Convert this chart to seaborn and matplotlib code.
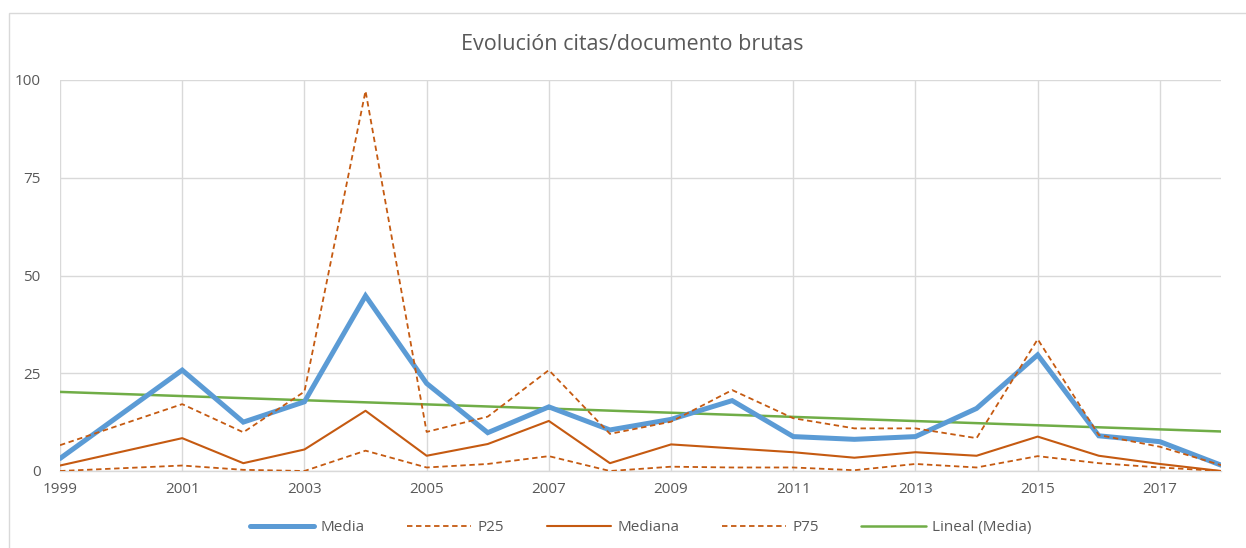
import numpy as np
import pandas as pd
import matplotlib
matplotlib.use("Agg")
import matplotlib.pyplot as plt
from matplotlib.patches import Rectangle
import seaborn as sns

# no data for 2000: the lines run straight from 1999 to 2001
years   = [1999, 2001, 2002, 2003, 2004, 2005, 2006, 2007, 2008, 2009,
           2010, 2011, 2012, 2013, 2014, 2015, 2016, 2017, 2018]
media   = [3.2, 25.8, 12.5, 17.7, 44.8, 22.4, 9.8, 16.4, 10.5, 13.2, 18.0, 8.8, 8.1, 8.8, 16.0, 29.7, 9.0, 7.5, 1.5]
p25     = [0.0, 1.4, 0.3, 0.0, 5.2, 0.9, 1.8, 3.8, 0.0, 1.1, 0.9, 0.9, 0.2, 1.8, 0.9, 3.8, 2.0, 0.9, 0.0]
mediana = [1.4, 8.4, 2.0, 5.5, 15.4, 3.9, 6.9, 12.8, 2.0, 6.8, 5.8, 4.8, 3.4, 4.8, 3.9, 8.8, 3.9, 1.8, 0.0]
p75     = [6.6, 17.1, 9.9, 20.3, 97.2, 10.0, 13.9, 25.8, 9.5, 12.6, 20.7, 13.5, 10.9, 10.9, 8.4, 33.7, 9.2, 6.2, 1.5]

title = "Evolución citas/documento brutas"
xticks = [1999, 2001, 2003, 2005, 2007, 2009, 2011, 2013, 2015, 2017]
yticks = [0, 25, 50, 75, 100]

# linear trend of Media (Excel "Lineal (Media)")
coef = np.polyfit(years, media, 1)
trend = list(np.polyval(coef, years))

df = pd.DataFrame({"year": years, "Media": media, "P25": p25,
                   "Mediana": mediana, "P75": p75, "Lineal (Media)": trend})

sns.set_style("white")
plt.rcParams["font.family"] = ["Open Sans", "DejaVu Sans"]

fig = plt.figure(figsize=(12.46, 5.48), dpi=100)
ax = fig.add_axes([60/1246, 1-471/548, (1221-60)/1246, (471-80)/548])

blue = "#5B9BD5"
orange = "#C55A11"
green = "#70AD47"

sns.lineplot(data=df, x="year", y="Media", ax=ax, color=blue, linewidth=3.6,
             label="Media", solid_joinstyle="miter", zorder=3)
sns.lineplot(data=df, x="year", y="P25", ax=ax, color=orange, linewidth=1.3,
             label="P25", dashes=(3, 2), zorder=4)
sns.lineplot(data=df, x="year", y="Mediana", ax=ax, color=orange, linewidth=1.5,
             label="Mediana", zorder=4)
sns.lineplot(data=df, x="year", y="P75", ax=ax, color=orange, linewidth=1.3,
             label="P75", dashes=(3, 2), zorder=4)
sns.lineplot(data=df, x="year", y="Lineal (Media)", ax=ax, color=green,
             linewidth=1.8, label="Lineal (Media)", zorder=2)

ax.set_xlim(1999, 2018)
ax.set_ylim(0, 100)
ax.set_xticks(xticks)
ax.set_xticklabels([str(t) for t in xticks])
ax.set_yticks(yticks)
ax.set_xlabel("")
ax.set_ylabel("")
ax.grid(True, color="#D9D9D9", linewidth=1.0)
ax.set_axisbelow(True)
for s in ["top", "right", "left"]:
    ax.spines[s].set_visible(False)
ax.spines["bottom"].set_color("#D9D9D9")
ax.spines["bottom"].set_linewidth(1.0)
ax.tick_params(axis="both", length=0, labelsize=11, colors="#595959", pad=8)
ax.tick_params(axis="y", pad=14)

fig.text(632/1246, 1-45/548, title, ha="center", va="center",
         fontsize=15.5, color="#595959")

ax.legend(loc="center", bbox_to_anchor=(0.5, -0.145), ncol=5, frameon=False,
          fontsize=11, labelcolor="#595959", handlelength=4.2,
          columnspacing=2.8, handletextpad=0.4)

fig.patches.append(Rectangle((9/1246, -0.1), 1.2, 1-13/548+0.1,
                             transform=fig.transFigure, fill=False,
                             edgecolor="#D9D9D9", linewidth=1.0))

fig.savefig("out.png", dpi=100, facecolor="white")
